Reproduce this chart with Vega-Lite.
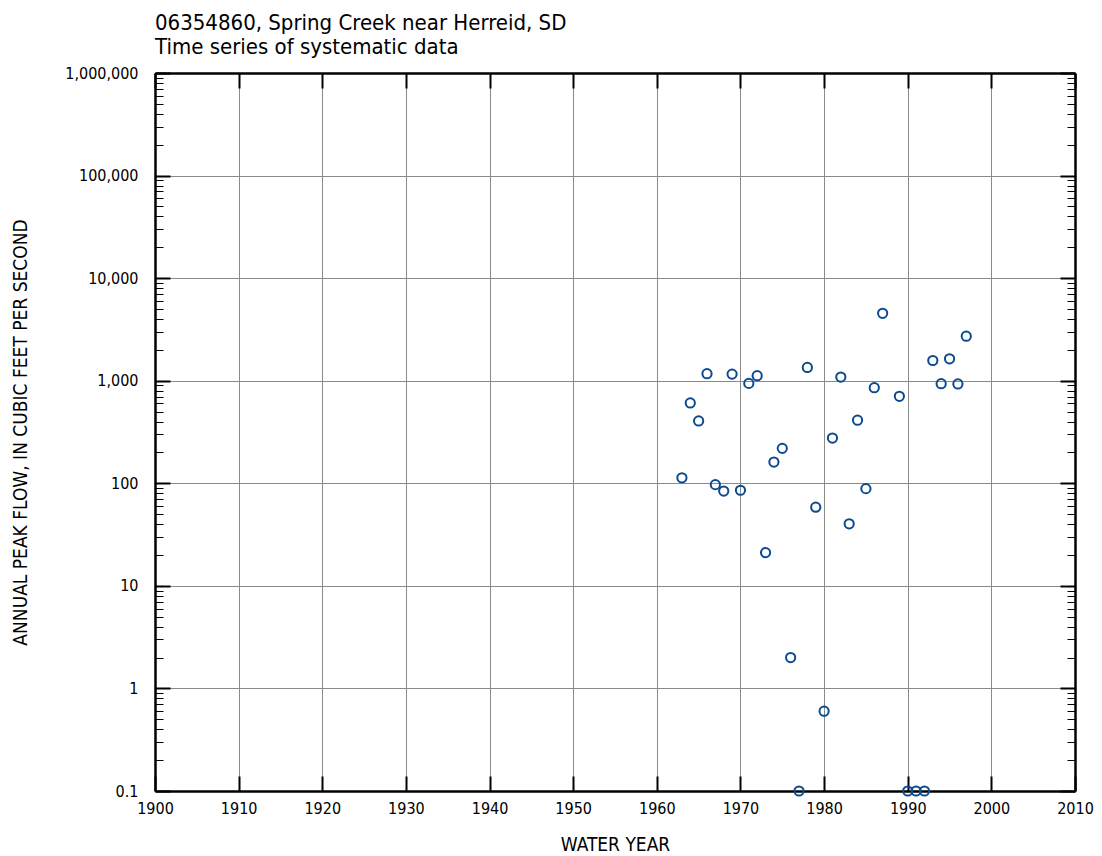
{
  "$schema": "https://vega.github.io/schema/vega-lite/v6.json",
  "autosize": {"type": "none"},
  "padding": {"left": 155, "top": 73, "right": 27, "bottom": 65},
  "width": 920,
  "height": 718,
  "background": "white",
  "config": {
    "font": "DejaVu Sans Condensed, sans-serif",
    "view": {"stroke": null},
    "axis": {"labelFont": "DejaVu Sans Condensed, sans-serif", "titleFont": "DejaVu Sans Condensed, sans-serif", "labelColor": "#000", "titleColor": "#000", "titleFontWeight": "normal"}
  },
  "title": {
    "text": ["06354860, Spring Creek near Herreid, SD", "Time series of systematic data"],
    "anchor": "start",
    "frame": "group",
    "fontSize": 22,
    "fontWeight": "normal",
    "color": "#000",
    "lineHeight": 24,
    "offset": 6
  },
  "data": {
    "values": [
      {"year": 1963, "flow": 113},
      {"year": 1964, "flow": 607},
      {"year": 1965, "flow": 405},
      {"year": 1966, "flow": 1170},
      {"year": 1967, "flow": 97},
      {"year": 1968, "flow": 84},
      {"year": 1969, "flow": 1160},
      {"year": 1970, "flow": 85.5},
      {"year": 1971, "flow": 942},
      {"year": 1972, "flow": 1120},
      {"year": 1973, "flow": 21.1},
      {"year": 1974, "flow": 161},
      {"year": 1975, "flow": 219},
      {"year": 1976, "flow": 2.0},
      {"year": 1977, "flow": 0.1},
      {"year": 1978, "flow": 1346},
      {"year": 1979, "flow": 58.5},
      {"year": 1980, "flow": 0.6},
      {"year": 1981, "flow": 276},
      {"year": 1982, "flow": 1086},
      {"year": 1983, "flow": 40.3},
      {"year": 1984, "flow": 412},
      {"year": 1985, "flow": 88.7},
      {"year": 1986, "flow": 855},
      {"year": 1987, "flow": 4540},
      {"year": 1989, "flow": 705},
      {"year": 1990, "flow": 0.1},
      {"year": 1991, "flow": 0.1},
      {"year": 1992, "flow": 0.1},
      {"year": 1993, "flow": 1574},
      {"year": 1994, "flow": 935},
      {"year": 1995, "flow": 1636},
      {"year": 1996, "flow": 930},
      {"year": 1997, "flow": 2716}
    ]
  },
  "layer": [
    {
      "mark": {"type": "point", "shape": "circle", "filled": false, "size": 85, "strokeWidth": 2, "color": "#0b4a8f", "opacity": 1, "clip": false},
      "encoding": {
        "x": {
          "field": "year", "type": "quantitative",
          "scale": {"domain": [1900, 2010], "nice": false, "zero": false},
          "axis": {
            "orient": "bottom",
            "values": [1900, 1910, 1920, 1930, 1940, 1950, 1960, 1970, 1980, 1990, 2000, 2010],
            "format": "d",
            "grid": true, "gridColor": "#8a8a8a", "gridWidth": 1, "gridOpacity": 1,
            "domain": true, "domainColor": "#000", "domainWidth": 2.5,
            "ticks": true, "tickSize": -15, "tickWidth": 2, "tickColor": "#000",
            "labelFontSize": 16, "labelPadding": 24, "labelOverlap": false, "labelFlush": false,
            "title": "WATER YEAR", "titleFontSize": 19, "titlePadding": 19
          }
        },
        "y": {
          "field": "flow", "type": "quantitative",
          "scale": {"type": "log", "domain": [0.1, 1000000], "nice": false},
          "axis": {
            "orient": "left",
            "values": [0.1,0.2,0.3,0.4,0.5,0.6,0.7,0.8,0.9,1,2,3,4,5,6,7,8,9,10,20,30,40,50,60,70,80,90,100,200,300,400,500,600,700,800,900,1000,2000,3000,4000,5000,6000,7000,8000,9000,10000,20000,30000,40000,50000,60000,70000,80000,90000,100000,200000,300000,400000,500000,600000,700000,800000,900000,1000000],
            "format": ",",
            "labelExpr": "abs(log(datum.value)/LN10 - round(log(datum.value)/LN10)) < 0.000001 ? datum.label : ''",
            "grid": true, "gridColor": "#8a8a8a", "gridWidth": 1,
            "gridOpacity": {"condition": {"test": "abs(log(datum.value)/LN10 - round(log(datum.value)/LN10)) < 0.000001", "value": 1}, "value": 0},
            "domain": true, "domainColor": "#000", "domainWidth": 2.5,
            "ticks": true, "tickColor": "#000",
            "tickSize": {"condition": {"test": "abs(log(datum.value)/LN10 - round(log(datum.value)/LN10)) < 0.000001", "value": -15}, "value": -8},
            "tickWidth": {"condition": {"test": "abs(log(datum.value)/LN10 - round(log(datum.value)/LN10)) < 0.000001", "value": 2}, "value": 1},
            "labelFontSize": 16, "labelPadding": 32, "labelOverlap": false, "labelFlush": false,
            "title": "ANNUAL PEAK FLOW, IN CUBIC FEET PER SECOND", "titleFontSize": 19, "titlePadding": 34
          }
        }
      }
    },
    {
      "mark": {"type": "point", "opacity": 0},
      "encoding": {
        "x": {
          "field": "year", "type": "quantitative",
          "axis": {
            "orient": "top",
            "values": [1900, 1910, 1920, 1930, 1940, 1950, 1960, 1970, 1980, 1990, 2000, 2010],
            "grid": false, "labels": false, "title": null,
            "domain": true, "domainColor": "#000", "domainWidth": 2.5,
            "ticks": true, "tickSize": -15, "tickWidth": 2, "tickColor": "#000"
          }
        },
        "y": {
          "field": "flow", "type": "quantitative",
          "axis": {
            "orient": "right",
            "values": [0.1,0.2,0.3,0.4,0.5,0.6,0.7,0.8,0.9,1,2,3,4,5,6,7,8,9,10,20,30,40,50,60,70,80,90,100,200,300,400,500,600,700,800,900,1000,2000,3000,4000,5000,6000,7000,8000,9000,10000,20000,30000,40000,50000,60000,70000,80000,90000,100000,200000,300000,400000,500000,600000,700000,800000,900000,1000000],
            "grid": false, "labels": false, "title": null,
            "domain": true, "domainColor": "#000", "domainWidth": 2.5,
            "ticks": true, "tickColor": "#000",
            "tickSize": {"condition": {"test": "abs(log(datum.value)/LN10 - round(log(datum.value)/LN10)) < 0.000001", "value": -15}, "value": -8},
            "tickWidth": {"condition": {"test": "abs(log(datum.value)/LN10 - round(log(datum.value)/LN10)) < 0.000001", "value": 2}, "value": 1}
          }
        }
      }
    }
  ],
  "resolve": {"axis": {"x": "independent", "y": "independent"}}
}
